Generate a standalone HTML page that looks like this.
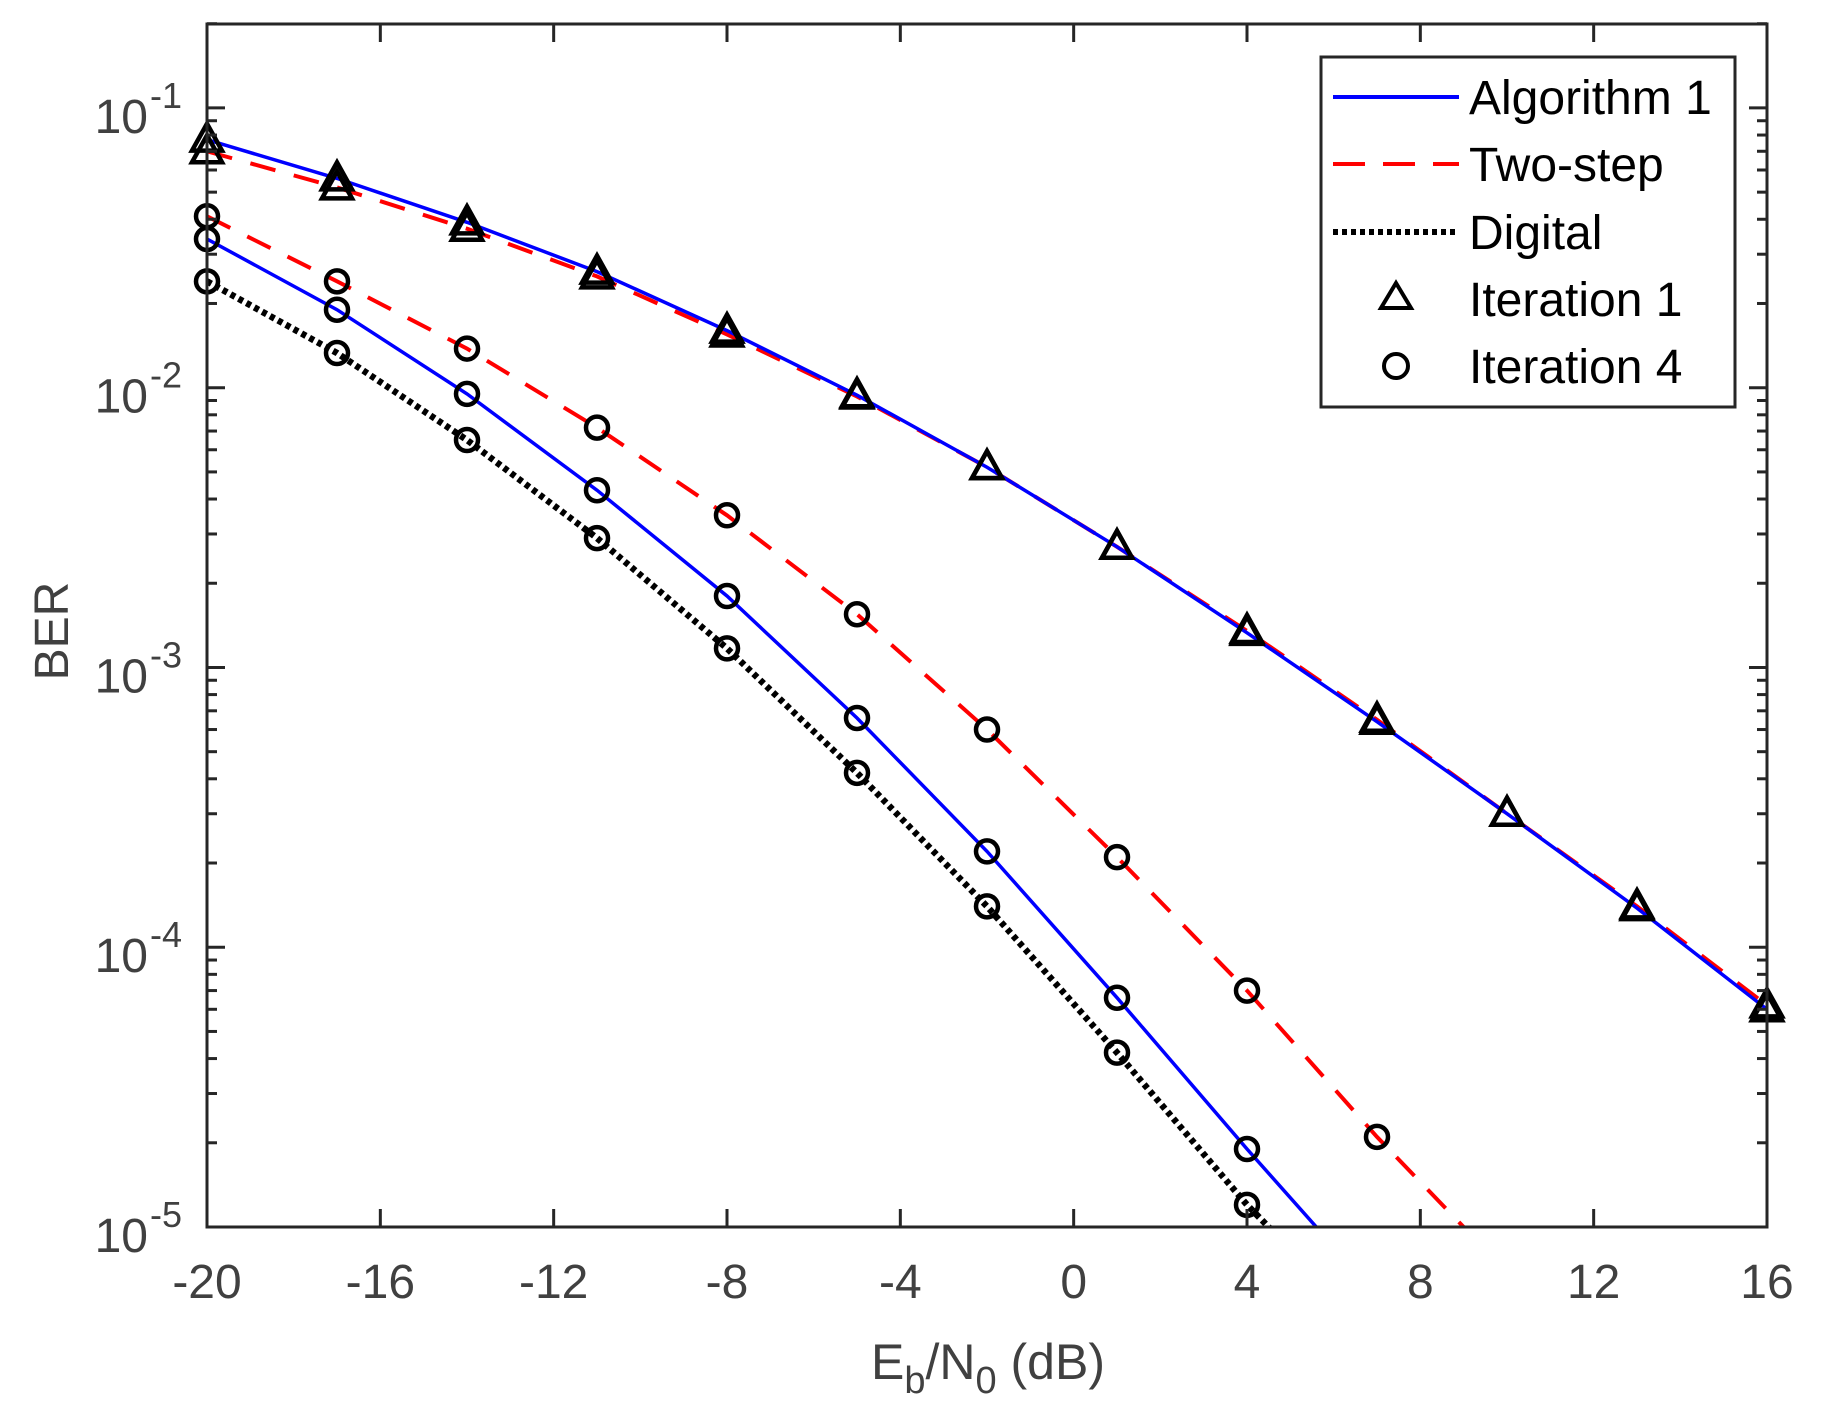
<!DOCTYPE html>
<html><head><meta charset="utf-8"><style>
html,body{margin:0;padding:0;background:#fff}
svg{display:block;font-family:"Liberation Sans",Arial,sans-serif}
</style></head><body>
<svg id="chart" width="1823" height="1413" viewBox="0 0 1823 1413">
<defs><clipPath id="plotclip"><rect x="207" y="24" width="1560" height="1203"/></clipPath></defs>
<g id="grid"></g>
<g id="series" clip-path="url(#plotclip)"></g>
<g id="markers"></g>
<g id="axes"></g>
<g id="legend"></g>
</svg>
<script>
const xTicks=[-20,-16,-12,-8,-4,0,4,8,12,16];
const yDecades=[-5,-4,-3,-2,-1];
const xPts=[-20,-17,-14,-11,-8,-5,-2,1,4,7,10,13,16];
const alg1Iter1=[0.077,0.056,0.039,0.026,0.016,0.0094,0.0052,0.0027,0.00133,0.00064,0.0003,0.000138,0.00006];
const twoIter1=[0.07,0.052,0.037,0.025,0.0155,0.0093,0.0052,0.0027,0.00135,0.00065,0.0003,0.00014,0.000062];
const alg1Iter4=[0.034,0.019,0.0095,0.0043,0.0018,0.00066,0.00022,0.000066,0.000019,0.0000057];
const twoIter4=[0.041,0.024,0.0138,0.0072,0.0035,0.00155,0.0006,0.00021,0.00007,0.000021,0.0000069];
const digIter4=[0.024,0.0133,0.0065,0.0029,0.00117,0.00042,0.00014,0.000042,0.000012,0.000004];

const NS="http://www.w3.org/2000/svg";
const L=207,R=1767,T=24,B=1227;
const xMin=-20,xMax=16,yMinE=-5,yMaxE=-0.7;
const xs=v=>L+(v-xMin)/(xMax-xMin)*(R-L);
const ys=v=>B-(Math.log10(v)-yMinE)/(yMaxE-yMinE)*(B-T);
function mk(tag,attrs,parent){const e=document.createElementNS(NS,tag);for(const k in attrs)e.setAttribute(k,attrs[k]);parent.appendChild(e);return e;}
const axes=document.getElementById('axes'),ser=document.getElementById('series'),mg=document.getElementById('markers'),lg=document.getElementById('legend');

xTicks.forEach(t=>{
  const x=xs(t);
  let a=mk('line',{x1:x,y1:B,x2:x,y2:B-18,stroke:'#262626','stroke-width':3},axes);
  
  
  let b=mk('line',{x1:x,y1:T,x2:x,y2:T+18,stroke:'#262626','stroke-width':3},axes);
  
  
  const tx=mk('text',{x:x,y:1298,'text-anchor':'middle','font-size':48,fill:'#404040'},axes);
  tx.textContent=String(t);
  
  
});
for(let e=-5;e<=-1;e++){
  for(let m=1;m<=9;m++){
    const v=m*Math.pow(10,e);const y=ys(v);
    if(y<T-1||y>B+1)continue;
    const len=m===1?18:10;
    let a=mk('line',{x1:L,y1:y,x2:L+len,y2:y,stroke:'#262626','stroke-width':3},axes);
    
    
    let b=mk('line',{x1:R,y1:y,x2:R-len,y2:y,stroke:'#262626','stroke-width':3},axes);
    
    
  }
}
yDecades.forEach(e=>{
  const y=ys(Math.pow(10,e));
  const t=mk('text',{x:148,y:y+25,'text-anchor':'end','font-size':48,fill:'#404040'},axes);
  t.textContent='10';
  
  
  const s=mk('text',{x:150,y:y,'text-anchor':'start','font-size':36,fill:'#404040'},axes);
  s.textContent='-'+(-e);
  
  
});
let box=mk('rect',{x:L,y:T,width:R-L,height:B-T,fill:'none',stroke:'#262626','stroke-width':3},axes);


let xl=mk('text',{x:988,y:1379,'text-anchor':'middle','font-size':50,fill:'#404040'},axes);
xl.innerHTML='E<tspan font-size="38" dy="14">b</tspan><tspan dy="-14">/N</tspan><tspan font-size="38" dy="14">0</tspan><tspan dy="-14"> (dB)</tspan>';


let yl=mk('text',{x:0,y:0,'text-anchor':'middle','font-size':48,fill:'#404040',transform:'translate(68,631) rotate(-90)'},axes);
yl.textContent='BER';



function line(vals,color,dash,w,name){
  const d=vals.map((v,i)=>(i?'L':'M')+xs(xPts[i]).toFixed(1)+','+ys(v).toFixed(1)).join(' ');
  const p=mk('path',{d:d,fill:'none',stroke:color,'stroke-width':w,'stroke-dasharray':dash},ser);
  
  
}
function tri(x,y){return mk('path',{d:`M${x},${y-16} L${x+15},${y+11} L${x-15},${y+11} Z`,fill:'none',stroke:'#000','stroke-width':4.5},mg);}
function circ(x,y){return mk('circle',{cx:x,cy:y,r:11,fill:'none',stroke:'#000','stroke-width':4.5},mg);}
line(twoIter1,'#ff0000','26 19',4,'two-step-iter1-line');
line(alg1Iter1,'#0000ff','none',3.5,'algorithm1-iter1-line');
line(twoIter4,'#ff0000','26 19',4,'two-step-iter4-line');
line(alg1Iter4,'#0000ff','none',3.5,'algorithm1-iter4-line');
line(digIter4,'#000000','5 4',6.5,'digital-iter4-line');
function marks(vals,fn,name){vals.forEach((v,i)=>{const y=ys(v);if(y>B+5)return;const m=fn(xs(xPts[i]),y);
  
  });}
marks(alg1Iter1,tri,'iter1-marker');
marks(twoIter1,tri,'iter1-marker');
marks(alg1Iter4,circ,'iter4-marker');
marks(twoIter4,circ,'iter4-marker');
marks(digIter4,circ,'iter4-marker');

let lb=mk('rect',{x:1321,y:57,width:414,height:350,fill:'#fff',stroke:'#262626','stroke-width':3},lg);


const rows=[['Algorithm 1',97],['Two-step',164],['Digital',232],['Iteration 1',299],['Iteration 4',366]];
let l1=mk('line',{x1:1333,y1:97,x2:1459,y2:97,stroke:'#0000ff','stroke-width':4},lg);

let l2=mk('line',{x1:1333,y1:164,x2:1459,y2:164,stroke:'#ff0000','stroke-width':4,'stroke-dasharray':'32 18'},lg);

let l3=mk('line',{x1:1333,y1:232,x2:1455,y2:232,stroke:'#000','stroke-width':6,'stroke-dasharray':'5 4'},lg);

let l4=mk('path',{d:'M1396,283 L1411,308 L1381,308 Z',fill:'none',stroke:'#000','stroke-width':4},lg);

let l5=mk('circle',{cx:1396,cy:366,r:12,fill:'none',stroke:'#000','stroke-width':4},lg);

rows.forEach(r=>{const t=mk('text',{x:1469,y:r[1]+17,'font-size':48,fill:'#000'},lg);t.textContent=r[0];
  
  });
</script>
</body></html>
